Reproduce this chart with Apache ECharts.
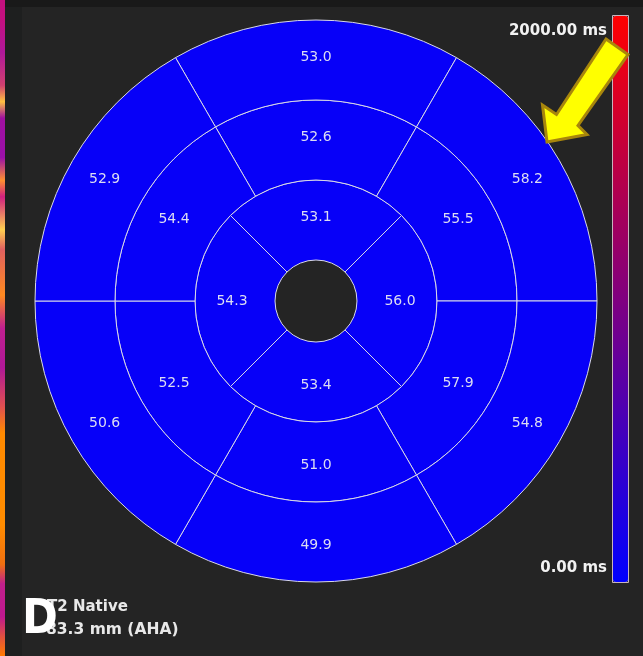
<!DOCTYPE html>
<html>
<head>
<meta charset="utf-8">
<script src="https://cdn.jsdelivr.net/npm/echarts@6/dist/echarts.min.js"></script>
<style>
html,body{margin:0;padding:0;background:#1e1f1f;}
#chart{width:643px;height:656px;}
</style>
</head>
<body>
<div id="chart"></div>
<script>
// Segment T2 values (ms), listed clockwise starting from the top (anterior) segment
const basalNames = ['Anterior', 'Anterolateral', 'Inferolateral', 'Inferior', 'Inferoseptal', 'Anteroseptal'];
const basalValues = [53.0, 58.2, 54.8, 49.9, 50.6, 52.9];
const midNames = ['Anterior', 'Anterolateral', 'Inferolateral', 'Inferior', 'Inferoseptal', 'Anteroseptal'];
const midValues = [52.6, 55.5, 57.9, 51.0, 52.5, 54.4];
const apicalNames = ['Anterior', 'Lateral', 'Inferior', 'Septal'];
const apicalValues = [53.1, 56.0, 53.4, 54.3];
// colour scale
const scaleMin = 0;
const scaleMax = 2000;
const scaleLabels = ['2000.00 ms', '0.00 ms'];
const titleLines = ['T2 Native', '83.3 mm (AHA)'];
const panelLetter = 'D';

function makeSource(names, values) {
  // each AHA segment spans an equal angle within its ring
  return [['segment', 'span', 't2']].concat(names.map((n, i) => [n, 1, values[i]]));
}

const chart = echarts.init(document.getElementById('chart'), null, {renderer: 'canvas'});

const C = [316, 301];
const borderCol = '#d8d8e8';
const labelCol = '#dcdcf2';

function ring(dsIndex, radius, startAngle) {
  return {
    type: 'pie',
    datasetIndex: dsIndex,
    encode: {itemName: 'segment', value: 'span'},
    center: C,
    radius: radius,
    startAngle: startAngle,
    clockwise: true,
    avoidLabelOverlap: false,
    silent: true,
    animation: false,
    label: {
      show: true,
      position: 'inside',
      color: labelCol,
      fontSize: 14,
      fontFamily: 'DejaVu Sans',
      formatter: p => p.value[2].toFixed(1)
    },
    labelLine: {show: false},
    itemStyle: {borderColor: borderCol, borderWidth: 1},
    emphasis: {disabled: true}
  };
}

const stripStops = [
  [0.00, '#c4107e'], [0.03, '#c41080'], [0.08, '#b0189a'], [0.13, '#d04070'],
  [0.155, '#ffc040'], [0.18, '#a010a0'], [0.24, '#9a10a8'], [0.275, '#ff9030'],
  [0.30, '#d02080'], [0.35, '#ffd050'], [0.38, '#e06060'], [0.45, '#ff8a20'],
  [0.50, '#c02090'], [0.56, '#b01898'], [0.62, '#e05050'], [0.66, '#ff8a00'],
  [0.80, '#ff8c00'], [0.86, '#f07010'], [0.89, '#c0208c'], [0.94, '#c01890'],
  [0.97, '#e05040'], [1.00, '#ff7a00']
].map(s => ({offset: s[0], color: s[1]}));

const option = {
  backgroundColor: '#1e1f1f',
  animation: false,
  dataset: [
    {source: makeSource(apicalNames, apicalValues)},
    {source: makeSource(midNames, midValues)},
    {source: makeSource(basalNames, basalValues)}
  ],
  visualMap: {
    type: 'continuous',
    min: scaleMin,
    max: scaleMax,
    dimension: 2,
    seriesIndex: [0, 1, 2],
    orient: 'vertical',
    left: 613,
    top: 16,
    padding: 0,
    itemWidth: 15,
    itemHeight: 566,
    text: null,
    showLabel: false,
    calculable: false,
    hoverLink: false,
    inRange: {color: ['#0000ff', '#ff0000']}
  },
  series: [
    ring(0, [41, 121], 135),
    ring(1, [121, 201], 120),
    ring(2, [201, 281], 120)
  ],
  graphic: [
    // panel backgrounds
    {type: 'rect', z: -10, silent: true, shape: {x: 0, y: 0, width: 643, height: 7}, style: {fill: '#191919'}},
    {type: 'rect', z: -10, silent: true, shape: {x: 22, y: 7, width: 621, height: 649}, style: {fill: '#242424'}},
    {type: 'rect', z: -10, silent: true, shape: {x: 0, y: 0, width: 5, height: 656},
      style: {fill: {type: 'linear', x: 0, y: 0, x2: 0, y2: 1, colorStops: stripStops}}},
    // colour bar outline
    {type: 'rect', z: 100, silent: true, shape: {x: 612.5, y: 15.5, width: 16, height: 567},
      style: {fill: null, stroke: '#c8b4be', lineWidth: 1}},
    // colour bar labels
    {type: 'text', z: 100, silent: true, x: 607, y: 31,
      style: {text: scaleLabels[0], fill: '#f2f2f2', font: 'bold 15px "DejaVu Sans"', textAlign: 'right', textVerticalAlign: 'middle'}},
    {type: 'text', z: 100, silent: true, x: 607, y: 568,
      style: {text: scaleLabels[1], fill: '#f2f2f2', font: 'bold 15px "DejaVu Sans"', textAlign: 'right', textVerticalAlign: 'middle'}},
    // annotation arrow
    {type: 'polygon', z: 100, silent: true,
      shape: {points: [[606, 39], [628, 54.5], [578, 125.5], [587, 134.5], [547, 142], [542.5, 105], [556.5, 114.5]]},
      style: {fill: '#ffff00', stroke: '#a8860c', lineWidth: 3, lineJoin: 'miter'}},
    // bottom-left caption
    {type: 'text', z: 100, silent: true, x: 47, y: 607,
      style: {text: titleLines[0], fill: '#e8e8e8', font: 'bold 15px "DejaVu Sans"', textAlign: 'left', textVerticalAlign: 'middle'}},
    {type: 'text', z: 100, silent: true, x: 46, y: 630,
      style: {text: titleLines[1], fill: '#e8e8e8', font: 'bold 15.5px "DejaVu Sans"', textAlign: 'left', textVerticalAlign: 'middle'}},
    {type: 'text', z: 110, silent: true, x: 22, y: 621,
      style: {text: panelLetter, fill: '#ffffff', font: 'bold 48px "Liberation Sans Narrow", "DejaVu Sans Condensed", sans-serif', textAlign: 'left', textVerticalAlign: 'middle'}}
  ]
};

chart.setOption(option);
</script>
</body>
</html>
